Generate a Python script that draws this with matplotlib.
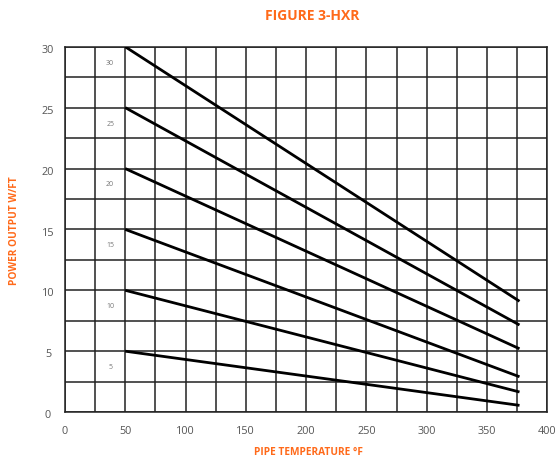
import numpy as np
from matplotlib import pyplot as plt

# ratings (W/FT at 50 F) and the output at the end of each line
ratings = [30, 25, 20, 15, 10, 5]
temp_start = 50
temp_end = 377
power_end = [9.1, 7.15, 5.2, 2.9, 1.65, 0.55]

x_ticks = [0, 50, 100, 150, 200, 250, 300, 350, 400]
y_ticks = [0, 5, 10, 15, 20, 25, 30]

orange = '#FF6A1A'
grey_txt = '#555555'

plt.rcParams['font.family'] = ['Open Sans', 'DejaVu Sans']

figure = plt.figure(figsize=(5.55, 4.63), dpi=100)
axis = figure.add_axes([0.117, 0.110, 0.869, 0.789])

for rating, end in zip(ratings, power_end):
    axis.plot([temp_start, temp_end], [rating, end], color='black', lw=2.0,
              solid_capstyle='butt', zorder=3)
    axis.text(37.5, rating - 1.35, str(rating), fontsize=5, color='#777777',
              ha='center', va='center')

axis.set_xlim(0, 400)
axis.set_ylim(0, 30)
axis.set_xticks(np.arange(0, 401, 25), minor=False)
axis.set_yticks(np.arange(0, 30.1, 2.5), minor=False)
axis.grid(True, color='#222222', lw=1.1)
axis.tick_params(length=0, labelbottom=False, labelleft=False)
for spine in axis.spines.values():
    spine.set_color('#222222')
    spine.set_linewidth(1.1)

for t in x_ticks:
    axis.text(t, -1.6, str(t), fontsize=7.8, color=grey_txt, ha='center', va='center')
for t in y_ticks:
    axis.text(-14, t - 0.3, str(t), fontsize=7.8, color=grey_txt, ha='center', va='center')

figure.text(0.562, 0.966, 'FIGURE 3-HXR', fontsize=10, fontweight='bold', color=orange,
            ha='center', va='center')
figure.text(0.555, 0.022, 'PIPE TEMPERATURE °F', fontsize=7.3, fontweight='bold',
            color=orange, ha='center', va='center')
figure.text(0.027, 0.502, 'POWER OUTPUT W/FT', fontsize=7.3, fontweight='bold',
            color=orange, ha='center', va='center', rotation=90)

figure.savefig('out.png', dpi=100)
